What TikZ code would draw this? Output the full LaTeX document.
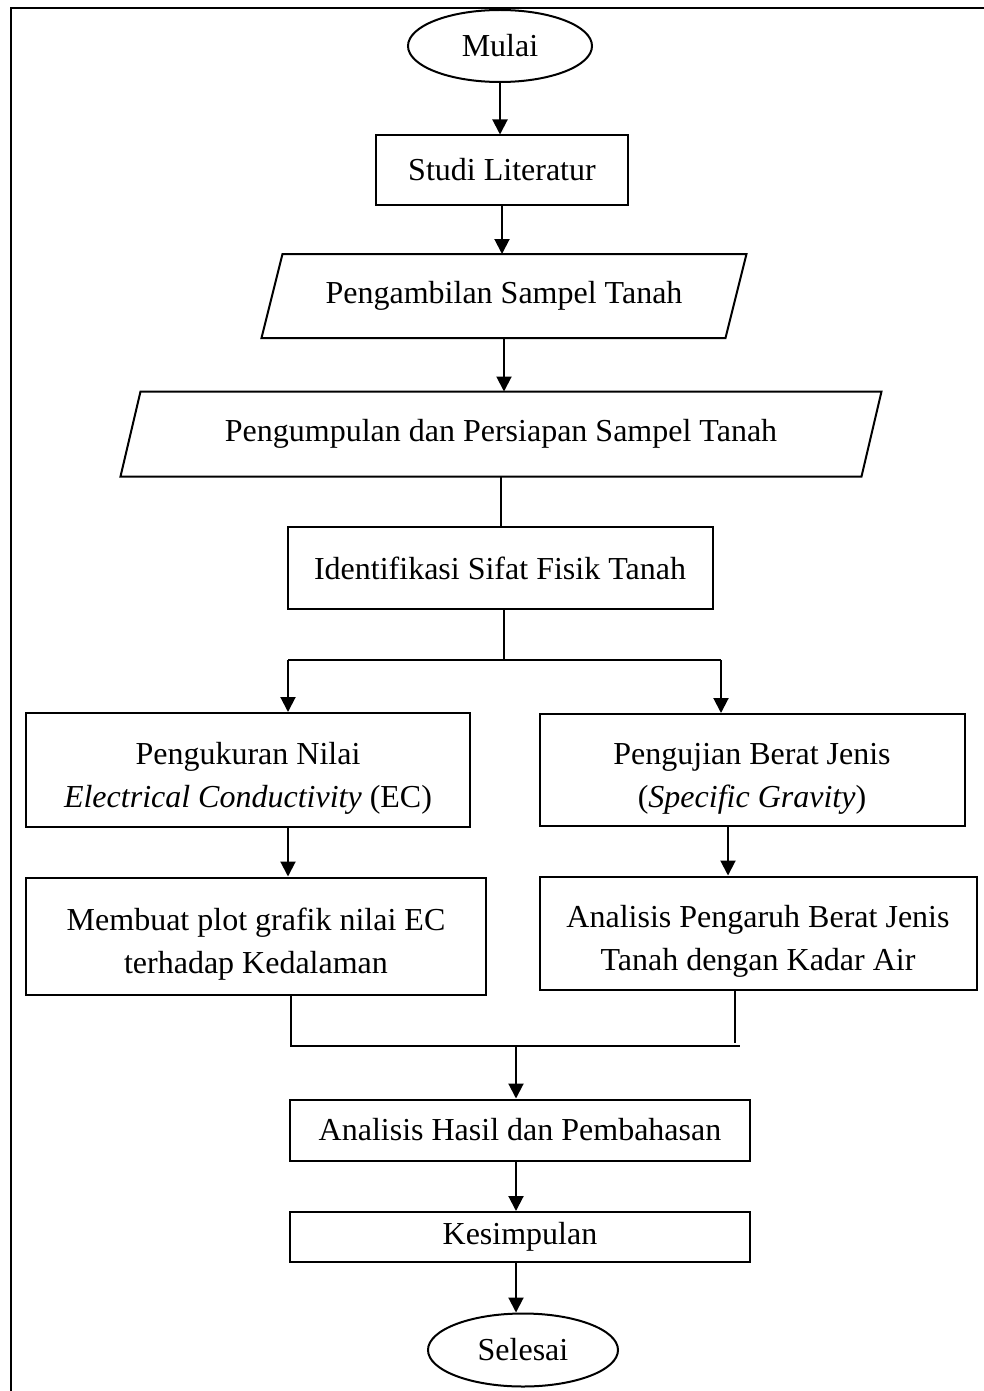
\documentclass[tikz,border=0pt]{standalone}
\usepackage{fontspec}
\setmainfont{Liberation Serif}
\usetikzlibrary{arrows.meta, shapes.geometric}

\newcommand{\slanted}[2]{% node name, half of the slant
  \draw ([xshift=-#2]#1.south west) -- ([xshift=#2]#1.north west)
    -- ([xshift=#2]#1.north east) -- ([xshift=-#2]#1.south east) -- cycle;}

\begin{document}
\begin{tikzpicture}[x=1pt, y=-1pt, line width=2pt,
      font=\fontsize{32}{43}\selectfont,
      box/.style={draw, rectangle, align=center, inner sep=2pt},
      twoline/.style={box, text height=81pt},
      data/.style={rectangle, align=center, inner sep=2pt},
      term/.style={draw, ellipse, inner sep=0pt},
      >={Triangle[length=15pt, width=15pt]}]
    \useasboundingbox (0,0) rectangle (983,1391);
    \draw[line width=2.2pt] (990,8) -- (11,8) -- (11,1400);
    % main column
    \node[term, minimum width=184, minimum height=72] (mulai) at (500,46) {Mulai};
    \node[box, minimum width=252, minimum height=69] (studi) at (502,170) {Studi Literatur};
    \node[data, minimum width=462, minimum height=82] (ambil) at (504,296) {Pengambilan Sampel Tanah};
    \slanted{ambil}{10.5}
    \node[data, minimum width=739, minimum height=83] (kumpul) at (501,434) {Pengumpulan dan Persiapan Sampel Tanah};
    \slanted{kumpul}{10}
    \node[box, minimum width=425, minimum height=82] (ident) at (500,568) {Identifikasi Sifat Fisik Tanah};
    % two branches
    \node[twoline, minimum width=444, minimum height=114] (ukur) at (248,770)
      {Pengukuran Nilai\\\textit{Electrical Conductivity} (EC)};
    \node[twoline, minimum width=425, minimum height=112] (uji) at (752,770)
      {Pengujian Berat Jenis\\(\textit{Specific Gravity})};
    \node[twoline, minimum width=460, minimum height=117] (plot) at (256,936)
      {Membuat plot grafik nilai EC\\terhadap Kedalaman};
    \node[twoline, minimum width=437, minimum height=113] (pengaruh) at (758,933)
      {Analisis Pengaruh Berat Jenis\\Tanah dengan Kadar Air};
    % closing
    \node[box, minimum width=460, minimum height=61] (hasil) at (520,1130) {Analisis Hasil dan Pembahasan};
    \node[box, minimum width=460, minimum height=50] (simpul) at (520,1237) {Kesimpulan};
    \node[term, minimum width=190, minimum height=73] (selesai) at (523,1350) {Selesai};
    % junctions
    \coordinate (split) at (504,660);
    \coordinate (jl) at (288,660);
    \coordinate (jr) at (721,660);
    \coordinate (bl) at (291,1046);
    \coordinate (br) at (740,1046);
    \coordinate (jm) at (516,1046);
    \draw[->] (mulai.south) -- (mulai.south |- studi.north);
    \draw[->] (studi.south) -- (studi.south |- ambil.north);
    \draw[->] (ambil.south) -- (ambil.south |- kumpul.north);
    \draw (kumpul.south) -- (kumpul.south |- ident.north);
    \draw (split |- ident.south) -- (split);
    \draw (jl) -- (jr);
    \draw[->] (jl) -- (jl |- ukur.north);
    \draw[->] (jr) -- (jr |- uji.north);
    \draw[->] (ukur.south -| jl) -- (jl |- plot.north);
    \draw[->] (uji.south -| 728,0) -- (728,0 |- pengaruh.north);
    \draw (bl |- plot.south) -- (bl) -- (br);
    \draw (735,0 |- pengaruh.south) -- (735,1043);
    \draw[->] (jm) -- (jm |- hasil.north);
    \draw[->] (jm |- hasil.south) -- (jm |- simpul.north);
    \draw[->] (jm |- simpul.south) -- (jm |- selesai.north);
  \end{tikzpicture}
\end{document}
